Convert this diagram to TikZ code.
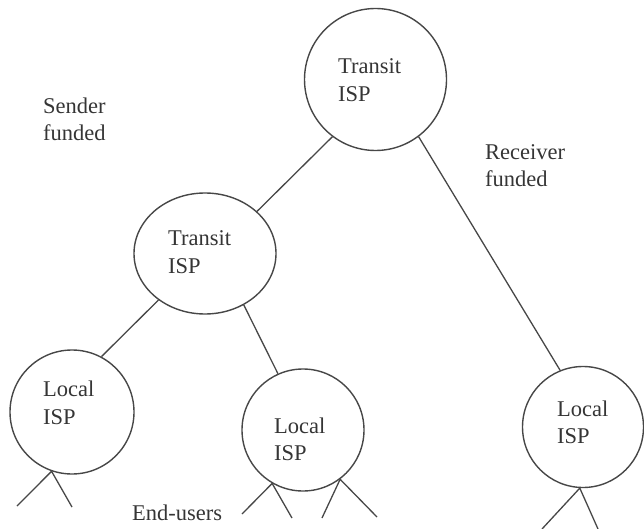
\documentclass[tikz,border=0pt]{standalone}
\usepackage{fontspec}
\setmainfont{Liberation Serif}
\usetikzlibrary{shapes.geometric}
\definecolor{ink}{HTML}{474747}
\definecolor{txt}{HTML}{353535}
\begin{document}
\begin{tikzpicture}[x=1pt,y=-1pt,
  isp/.style={circle,draw=ink,line width=1.4pt,inner sep=0pt,minimum size=#1},
  wire/.style={draw=ink,line width=1.3pt},
  lbl/.style={anchor=base west,inner sep=0pt,align=left,text=txt,
    font=\fontsize{22.5}{27.5}\selectfont}]
\useasboundingbox (0,0) rectangle (644,529);

% ISP nodes
\node[isp=142pt] (T) at (375.5,79.5) {};
\node[ellipse,draw=ink,line width=1.4pt,inner sep=0pt,
      minimum width=142pt,minimum height=121pt] (M) at (205,253.5) {};
\node[isp=124pt] (LA) at (72,412) {};
\node[isp=122pt] (LB) at (303,430) {};
\node[isp=121pt] (LC) at (583,427) {};

% labels (the base anchor sits on the last line)
\node[lbl] (tT)  at (338,101.5) {Transit\\ISP};
\node[lbl] (tM)  at (168,273)   {Transit\\ISP};
\node[lbl] (tLA) at (43,424)    {Local\\ISP};
\node[lbl] (tLB) at (274,460.5) {Local\\ISP};
\node[lbl] (tLC) at (557,443.5) {Local\\ISP};
\node[lbl] (snd) at (43,141)    {Sender\\funded};
\node[lbl] (rcv) at (485,187)   {Receiver\\funded};
\node[lbl] (eu)  at (132,520)   {End-users};

% tree links
\draw[wire] (T.-127) -- (M.39);
\draw[wire] (T.-53) -- (LC.112);
\draw[wire] (M.-135) -- (LA.62);
\draw[wire] (M.-53) -- (LB.114);

% end-user links
\coordinate (a1) at (17,506);
\coordinate (a2) at (72,507);
\coordinate (b1) at (242,514);
\coordinate (b2) at (292,518);
\coordinate (b3) at (322,518);
\coordinate (b4) at (377,517);
\coordinate (c1) at (542,529);
\coordinate (c2) at (598,529);
\draw[wire] (a1) -- (LA.-109) -- (a2);
\draw[wire] (b1) -- (LB.-120) -- (b2);
\draw[wire] (b3) -- (LB.-53) -- (b4);
\draw[wire] (c1) -- (LC.-93) -- (c2);
\end{tikzpicture}
\end{document}
